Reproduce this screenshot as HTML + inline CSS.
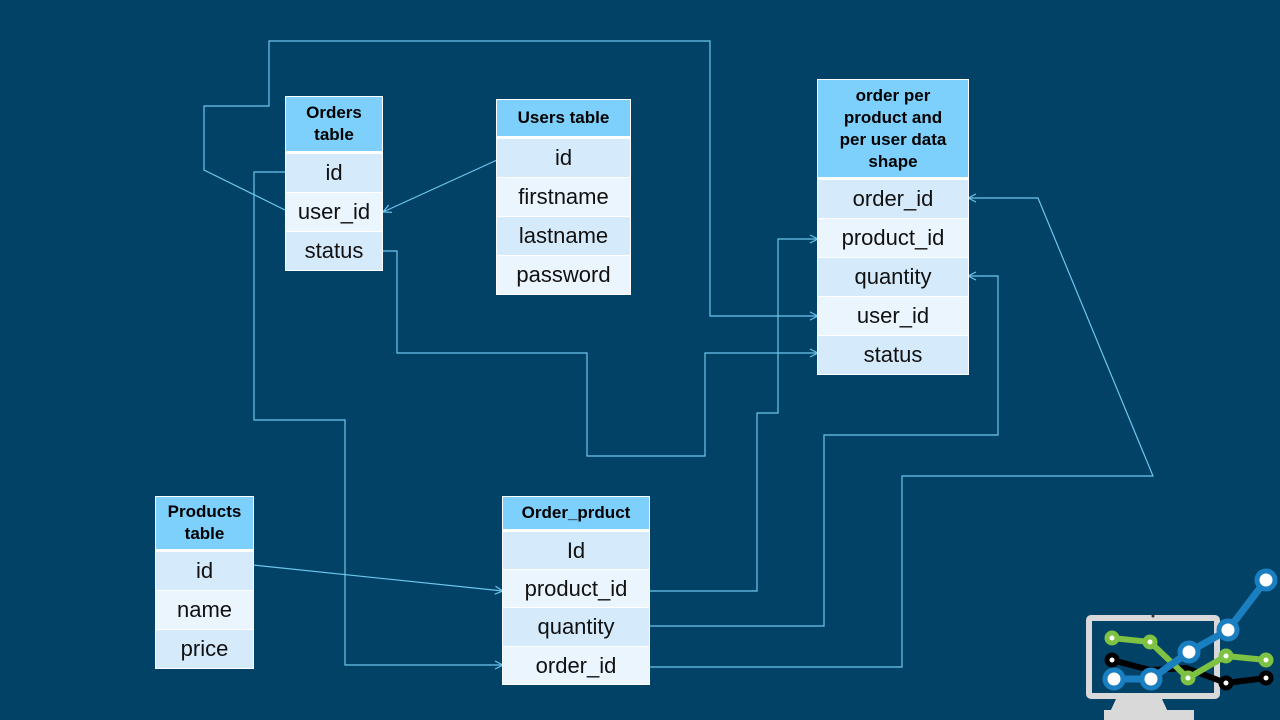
<!DOCTYPE html>
<html><head><meta charset="utf-8"><style>
body{margin:0;width:1280px;height:720px;background:#014266;overflow:hidden;position:relative;font-family:"Liberation Sans",sans-serif}
.t{position:absolute;border:1px solid #fff;background:#fff;box-sizing:border-box}
.h{background:#7dd0fc;color:#000;font-weight:bold;font-size:17px;text-align:center;display:flex;align-items:center;justify-content:center;line-height:22px;margin-bottom:2px}
.r{font-size:22px;color:#111;text-align:center;display:flex;align-items:center;justify-content:center;box-sizing:border-box;border-top:1px solid #fff}
.a{background:#d5eafb}.b{background:#eaf5fe}
svg{position:absolute;left:0;top:0}
</style></head><body>
<svg width="1280" height="720">
<defs><marker id="m" viewBox="0 0 10 10" refX="9" refY="5" markerWidth="10" markerHeight="10" orient="auto" markerUnits="userSpaceOnUse"><path d="M1,1 L9,5 L1,9" fill="none" stroke="#6ec6ee" stroke-width="1.2"/></marker></defs>
<g fill="none" stroke="#6ec6ee" stroke-width="1.2">
<polyline points="285,210 204,170 204,106 269,106 269,41 710,41 710,316 818,316" marker-end="url(#m)"/>
<polyline points="497,160 383,212" marker-end="url(#m)"/>
<polyline points="285,172 254,172 254,420 345,420 345,665 503,665" marker-end="url(#m)"/>
<polyline points="382,251 397,251 397,353 587,353 587,456 705,456 705,353 818,353" marker-end="url(#m)"/>
<polyline points="253,565 503,591" marker-end="url(#m)"/>
<polyline points="649,591 757,591 757,413 778,413 778,239 818,239" marker-end="url(#m)"/>
<polyline points="649,626 824,626 824,435 998,435 998,276 968,276" marker-end="url(#m)"/>
<polyline points="649,667 902,667 902,476 1153,476 1038,198 968,198" marker-end="url(#m)"/>
</g>
</svg>

<div class="t" style="left:285px;top:96px;width:98px">
<div class="h" style="height:54px">Orders<br>table</div>
<div class="r a" style="height:39px">id</div><div class="r b" style="height:39px">user_id</div><div class="r a" style="height:39px">status</div></div>

<div class="t" style="left:496px;top:99px;width:135px">
<div class="h" style="height:36px">Users table</div>
<div class="r a" style="height:39px">id</div><div class="r b" style="height:39px">firstname</div><div class="r a" style="height:39px">lastname</div><div class="r b" style="height:39px">password</div></div>

<div class="t" style="left:817px;top:79px;width:152px">
<div class="h" style="height:97px">order per<br>product and<br>per user data<br>shape</div>
<div class="r a" style="height:39px">order_id</div><div class="r b" style="height:39px">product_id</div><div class="r a" style="height:39px">quantity</div><div class="r b" style="height:39px">user_id</div><div class="r a" style="height:39px">status</div></div>

<div class="t" style="left:155px;top:496px;width:99px">
<div class="h" style="height:52px">Products<br>table</div>
<div class="r a" style="height:39px">id</div><div class="r b" style="height:39px">name</div><div class="r a" style="height:39px">price</div></div>

<div class="t" style="left:502px;top:496px;width:148px">
<div class="h" style="height:32px">Order_prduct</div>
<div class="r a" style="height:38px">Id</div><div class="r b" style="height:38px">product_id</div><div class="r a" style="height:39px">quantity</div><div class="r b" style="height:38px">order_id</div></div>

<svg width="1280" height="720">
<rect x="1086" y="615" width="134" height="84" rx="5" fill="#d9d9d9"/>
<rect x="1092" y="621" width="122" height="72" fill="#014266"/>
<circle cx="1153" cy="616" r="1.5" fill="#333"/>
<path d="M1116,699 L1162,699 L1168,712 L1110,712 Z" fill="#d9d9d9"/>
<rect x="1104" y="710" width="90" height="10" fill="#d9d9d9"/>
<polyline points="1112,660 1150,670 1186,668 1226,683 1266,678" fill="none" stroke="#000" stroke-width="6"/>
<polyline points="1112,638 1150,642 1188,678 1226,656 1266,660" fill="none" stroke="#7dc242" stroke-width="6"/>
<polyline points="1114,679 1151,679 1189,652 1228,630 1266,580" fill="none" stroke="#1a7fc1" stroke-width="7"/>
<g fill="#fff">
<circle cx="1112" cy="660" r="5" stroke="#000" stroke-width="5"/>
<circle cx="1226" cy="683" r="5" stroke="#000" stroke-width="5"/>
<circle cx="1266" cy="678" r="5" stroke="#000" stroke-width="5"/>
<circle cx="1112" cy="638" r="5" stroke="#7dc242" stroke-width="5"/>
<circle cx="1150" cy="642" r="5" stroke="#7dc242" stroke-width="5"/>
<circle cx="1188" cy="678" r="5" stroke="#7dc242" stroke-width="5"/>
<circle cx="1226" cy="656" r="5" stroke="#7dc242" stroke-width="5"/>
<circle cx="1266" cy="660" r="5" stroke="#7dc242" stroke-width="5"/>
<circle cx="1114" cy="679" r="9" stroke="#1a7fc1" stroke-width="5"/>
<circle cx="1151" cy="679" r="9" stroke="#1a7fc1" stroke-width="5"/>
<circle cx="1189" cy="652" r="9" stroke="#1a7fc1" stroke-width="5"/>
<circle cx="1228" cy="630" r="9" stroke="#1a7fc1" stroke-width="5"/>
<circle cx="1266" cy="580" r="9" stroke="#1a7fc1" stroke-width="5"/>
</g>
</svg>
</body></html>
